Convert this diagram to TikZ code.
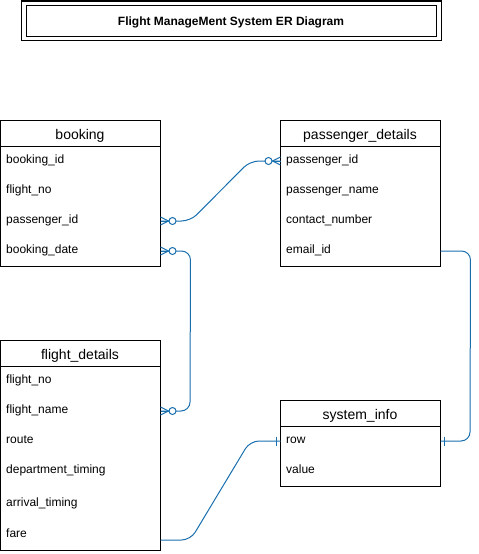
\documentclass[tikz,border=0pt]{standalone}
\usepackage{fontspec}
\setmainfont{Liberation Sans}
\definecolor{erblue}{RGB}{25,111,174}
\tikzset{
  tbl/.style={draw=black, line width=1pt, minimum width=160pt, anchor=north west, inner sep=0pt, outer sep=0pt},
  hdr/.style={font=\fontsize{14}{16}\selectfont, anchor=base, inner sep=0pt},
  fld/.style={font=\fontsize{12}{14}\selectfont, anchor=base west, inner sep=0pt},
  hline/.style={draw=black, line width=1pt},
  conn/.style={draw=erblue, line width=1pt, rounded corners=9pt},
  zmany/.pic={
    \draw[erblue, line width=1pt] (0,-4) -- (8,0) -- (0,4);
    \draw[erblue, line width=1pt] (0,0) -- (8,0);
    \draw[erblue, line width=1pt, fill=white] (12,0) circle[radius=3.5pt];
  },
  onebar/.pic={
    \draw[erblue, line width=1pt] (4,-4.5) -- (4,4.5);
  },
}
\begin{document}
\begin{tikzpicture}[x=1pt, y=-1pt]
\useasboundingbox (0,0) rectangle (479,554);

% title
\node[draw=black, line width=1pt, minimum width=420pt, minimum height=39pt, inner sep=0pt] (titleout) at (231,20.5) {};
\node[draw=black, line width=1pt, minimum width=410pt, minimum height=31pt, inner sep=0pt] (titlein) at (231,20.5) {};
\node[font=\fontsize{12}{14}\selectfont\bfseries, anchor=base, inner sep=0pt] (title) at (231,25.5) {Flight ManageMent System ER Diagram};

% booking
\node[tbl, minimum height=146pt] (booking) at (0.5,120.5) {};
\draw[hline] (booking.west |- 0,146.5) -- (booking.east |- 0,146.5);
\node[hdr] (bookingh) at (80,139.5) {booking};
\node[fld] (b1) at (6,163.5) {booking\_id};
\node[fld] (b2) at (6,193.5) {flight\_no};
\node[fld] (b3) at (6,223.5) {passenger\_id};
\node[fld] (b4) at (6,253.5) {booking\_date};

% passenger_details
\node[tbl, minimum height=146pt] (pass) at (280.5,120.5) {};
\draw[hline] (pass.west |- 0,146.5) -- (pass.east |- 0,146.5);
\node[hdr] (passh) at (360,139.5) {passenger\_details};
\node[fld] (p1) at (286,163.5) {passenger\_id};
\node[fld] (p2) at (286,193.5) {passenger\_name};
\node[fld] (p3) at (286,223.5) {contact\_number};
\node[fld] (p4) at (286,253.5) {email\_id};

% flight_details
\node[tbl, minimum height=210pt] (flight) at (0.5,340.5) {};
\draw[hline] (flight.west |- 0,366.5) -- (flight.east |- 0,366.5);
\node[hdr] (flighth) at (80,359.5) {flight\_details};
\node[fld] (f1) at (6,383.5) {flight\_no};
\node[fld] (f2) at (6,413.5) {flight\_name};
\node[fld] (f3) at (6,443.5) {route};
\node[fld] (f4) at (6,473.5) {department\_timing};
\node[fld] (f5) at (6,506.5) {arrival\_timing};
\node[fld] (f6) at (6,537.5) {fare};

% system_info
\node[tbl, minimum height=86pt] (sys) at (280.5,400.5) {};
\draw[hline] (sys.west |- 0,426.5) -- (sys.east |- 0,426.5);
\node[hdr] (sysh) at (360,419.5) {system\_info};
\node[fld] (s1) at (286,443.5) {row};
\node[fld] (s2) at (286,473.5) {value};

% connection points
\coordinate (bkpid) at (booking.east |- 0,221);
\coordinate (bkdate) at (booking.east |- 0,251);
\coordinate (pspid) at (pass.west |- 0,161);
\coordinate (psemail) at (pass.east |- 0,251);
\coordinate (flname) at (flight.east |- 0,411);
\coordinate (flfare) at (flight.east |- 0,540);
\coordinate (sysrowL) at (sys.west |- 0,441);
\coordinate (sysrowR) at (sys.east |- 0,441);

% connectors
\draw[conn] (bkpid) -- ++(30,0) -- (pspid -| 250,0) -- (pspid);
\draw[conn] (bkdate) -- ++(30,0) -- (flname -| 190,0) -- (flname);
\draw[conn] (psemail) -- ++(30,0) -- (sysrowR -| 470,0) -- (sysrowR);
\draw[conn] (flfare) -- ++(30,0) -- (sysrowL -| 250,0) -- (sysrowL);

% markers
\pic at (bkpid) {zmany};
\pic[xscale=-1] at (pspid) {zmany};
\pic at (bkdate) {zmany};
\pic at (flname) {zmany};
\pic[xscale=-1] at (sysrowL) {onebar};
\pic at (sysrowR) {onebar};
\end{tikzpicture}
\end{document}
